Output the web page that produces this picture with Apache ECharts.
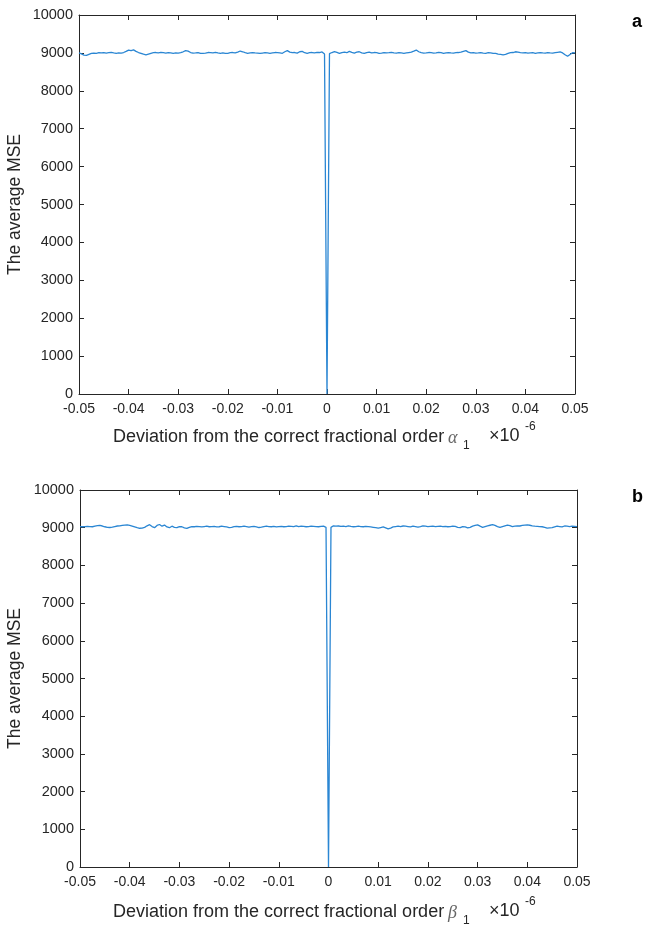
<!DOCTYPE html>
<html>
<head>
<meta charset="utf-8">
<script src="https://cdn.jsdelivr.net/npm/echarts@6/dist/echarts.min.js"></script>
<style>
html,body{margin:0;padding:0;background:#fff;}
#chart{width:645px;height:927px;}
</style>
</head>
<body>
<div id="chart"></div>
<script>
// x grid: -0.05 .. 0.05 (units of 1e-6), 201 samples
const xMin = -0.05, xMax = 0.05, nPts = 201;
const xTickLabels = ['-0.05','-0.04','-0.03','-0.02','-0.01','0','0.01','0.02','0.03','0.04','0.05'];
const yTickLabels = ['0','1000','2000','3000','4000','5000','6000','7000','8000','9000','10000'];

// (a) average MSE vs deviation of alpha_1
const mseAlpha = [
9000, 8975, 8940, 8935, 8960, 8985, 8995, 8990, 9005, 9000,
9010, 8995, 9005, 9015, 9000, 8990, 9000, 8995, 9010, 9040,
9075, 9060, 9080, 9040, 9010, 8990, 8965, 8950, 8970, 8990,
9005, 9010, 9000, 9015, 9005, 8995, 9010, 9000, 8990, 9000,
8995, 9010, 9030, 9060, 9045, 9010, 8995, 9000, 9010, 8990,
8985, 8995, 9010, 9005, 9000, 9015, 9000, 8990, 9000, 8985,
8990, 9005, 9010, 9000, 9020, 9050, 9030, 9005, 8990, 9000,
9010, 9000, 8995, 8985, 8995, 9005, 9000, 8990, 9000, 9010,
9005, 9000, 8990, 9030, 9060, 9020, 9005, 9010, 8995, 9030,
9040, 9005, 8990, 9005, 9010, 9000, 9015, 9010, 9025, 8970,
0,
8980, 9010, 9035, 9015, 8990, 9010, 9020, 9005, 9040, 9015,
8995, 9020, 9030, 9000, 8990, 9010, 9020, 9000, 9010, 9005,
8985, 8995, 9010, 9000, 9005, 9015, 9000, 8995, 9010, 9000,
8990, 9000, 9010, 9020, 9045, 9075, 9030, 9005, 8995, 9000,
9010, 9005, 8995, 9000, 9015, 9005, 8990, 9000, 9010, 9000,
8995, 9005, 9010, 9020, 9040, 9060, 9020, 9000, 9010, 8995,
9000, 9010, 8995, 8990, 9005, 9000, 8985, 8990, 8970, 8960,
8950, 8960, 8985, 9005, 9010, 9030, 9020, 9005, 9000, 9010,
8995, 9000, 9005, 8990, 9000, 9010, 9000, 8995, 9010, 9000,
8995, 9005, 9015, 9025, 9000, 8950, 8910, 8960, 9005, 9000
];

// (b) average MSE vs deviation of beta_1
const mseBeta = [
9030, 9025, 9030, 9035, 9030, 9025, 9040, 9055, 9060, 9045,
9025, 9010, 9005, 9015, 9030, 9045, 9050, 9060, 9070, 9075,
9060, 9040, 9020, 9000, 8985, 8990, 9010, 9050, 9080, 9030,
9000, 9060, 9085, 9040, 9070, 9020, 9000, 9040, 9010, 9000,
9030, 9025, 8995, 8980, 9010, 9030, 9025, 9035, 9030, 9020,
9030, 9040, 9025, 9030, 9035, 9020, 9025, 9040, 9030, 9020,
9000, 9010, 9030, 9035, 9025, 9030, 9040, 9030, 9015, 9030,
9035, 9020, 9005, 9015, 9030, 9040, 9030, 9025, 9035, 9020,
9030, 9035, 9025, 9030, 9040, 9035, 9030, 9050, 9030, 9040,
9035, 9025, 9030, 9040, 9035, 9030, 9025, 9035, 9040, 9010,
0,
9010, 9050, 9040, 9045, 9035, 9040, 9030, 9050, 9035, 9025,
9030, 9040, 9030, 9025, 9035, 9030, 9020, 9010, 9000, 8990,
9005, 9020, 8995, 8970, 8990, 9020, 9030, 9040, 9030, 9045,
9040, 9030, 9020, 9040, 9030, 9015, 9030, 9050, 9040, 9030,
9035, 9040, 9030, 9035, 9040, 9030, 9035, 9025, 9030, 9040,
9035, 9010, 9000, 9030, 9020, 8995, 9010, 9040, 9060, 9075,
9040, 9010, 9030, 9050, 9065, 9080, 9060, 9030, 9010, 9030,
9050, 9070, 9055, 9030, 9040, 9050, 9045, 9060, 9070, 9075,
9065, 9050, 9040, 9035, 9030, 9025, 9010, 8990, 8995, 9000,
9020, 9040, 9030, 9020, 9045, 9040, 9030, 9040, 9035, 9030
];

const panelLabels = ['a', 'b'];

const step = (xMax - xMin) / (nPts - 1);
function pairs(vals) {
  return vals.map((v, i) => [+(xMin + i * step).toFixed(6), v]);
}

const axisColor = '#262626';
const textColor = '#262626';
const lineColor = '#2a86d3';
const font = 'Liberation Sans, Arial, sans-serif';

const grids = [
  {left: 79, right: 70, top: 15, height: 379},
  {left: 80, right: 68, top: 490, height: 377}
];

function xLabelFmt(v) {
  const idx = Math.round((v - xMin) / 0.01);
  return xTickLabels[idx];
}
function yLabelFmt(v) {
  return yTickLabels[Math.round(v / 1000)];
}

const xAxes = [], yAxes = [];
grids.forEach((g, gi) => {
  xAxes.push({
    type: 'value', gridIndex: gi, min: xMin, max: xMax, interval: 0.01, position: 'bottom',
    axisLine: {show: true, onZero: false, lineStyle: {color: axisColor, width: 1}},
    axisTick: {show: true, inside: true, length: 5, lineStyle: {color: axisColor}},
    axisLabel: {show: true, formatter: xLabelFmt, color: textColor, fontSize: 14, fontFamily: font, margin: 8},
    splitLine: {show: false}
  });
  xAxes.push({
    type: 'value', gridIndex: gi, min: xMin, max: xMax, interval: 0.01, position: 'top',
    axisLine: {show: true, onZero: false, lineStyle: {color: axisColor, width: 1}},
    axisTick: {show: true, inside: true, length: 5, lineStyle: {color: axisColor}},
    axisLabel: {show: false}, splitLine: {show: false}
  });
  yAxes.push({
    type: 'value', gridIndex: gi, min: 0, max: 10000, interval: 1000, position: 'left',
    axisLine: {show: true, onZero: false, lineStyle: {color: axisColor, width: 1}},
    axisTick: {show: true, inside: true, length: 5, lineStyle: {color: axisColor}},
    axisLabel: {show: true, formatter: yLabelFmt, color: textColor, fontSize: 14.5, fontFamily: font, margin: 6},
    splitLine: {show: false}
  });
  yAxes.push({
    type: 'value', gridIndex: gi, min: 0, max: 10000, interval: 1000, position: 'right',
    axisLine: {show: true, onZero: false, lineStyle: {color: axisColor, width: 1}},
    axisTick: {show: true, inside: true, length: 5, lineStyle: {color: axisColor}},
    axisLabel: {show: false}, splitLine: {show: false}
  });
});

const seriesData = [mseAlpha, mseBeta];
const series = seriesData.map((vals, gi) => ({
  type: 'line', xAxisIndex: gi * 2, yAxisIndex: gi * 2,
  data: pairs(vals), showSymbol: false, symbol: 'none',
  lineStyle: {color: lineColor, width: 1.3}, silent: true
}));

const greek = ['α', 'β'];
const graphics = [];
const yOff = [0, 475];
[0, 1].forEach(gi => {
  const dy = yOff[gi];
  const g = grids[gi];
  graphics.push({type: 'text', x: 15, y: g.top + g.height / 2, rotation: Math.PI / 2,
    style: {text: 'The average MSE', fill: textColor, font: '17.5px ' + font, align: 'center', verticalAlign: 'middle'}});
  graphics.push({type: 'text', x: 113, y: 437 + dy,
    style: {text: 'Deviation from the correct fractional order', fill: textColor, font: '18px ' + font, verticalAlign: 'middle'}});
  graphics.push({type: 'text', x: 448, y: 438 + dy,
    style: {text: greek[gi], fill: '#666', font: 'italic 18px Liberation Serif, serif', verticalAlign: 'middle'}});
  graphics.push({type: 'text', x: 463, y: 446 + dy,
    style: {text: '1', fill: textColor, font: '12px ' + font, verticalAlign: 'middle'}});
  graphics.push({type: 'text', x: 489, y: 436 + dy,
    style: {text: '×10', fill: textColor, font: '18px ' + font, verticalAlign: 'middle'}});
  graphics.push({type: 'text', x: 525, y: 427 + dy,
    style: {text: '-6', fill: textColor, font: '12px ' + font, verticalAlign: 'middle'}});
  graphics.push({type: 'text', x: 632, y: 22 + dy,
    style: {text: panelLabels[gi], fill: '#000', font: 'bold 18px ' + font, verticalAlign: 'middle'}});
});

const chart = echarts.init(document.getElementById('chart'), null, {renderer: 'canvas'});
chart.setOption({
  animation: false,
  backgroundColor: '#fff',
  grid: grids,
  xAxis: xAxes,
  yAxis: yAxes,
  series: series,
  graphic: graphics
});
</script>
</body>
</html>
